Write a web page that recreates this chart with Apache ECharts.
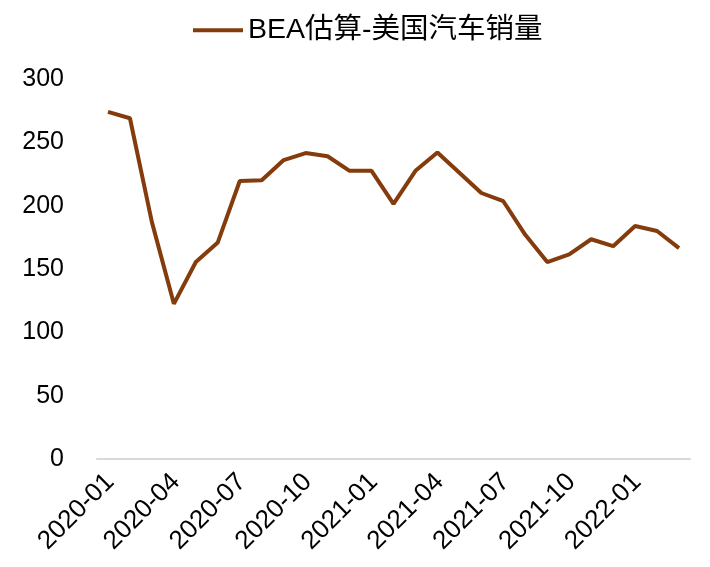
<!DOCTYPE html>
<html>
<head>
<meta charset="utf-8">
<script src="https://cdn.jsdelivr.net/npm/echarts@6/dist/echarts.min.js"></script>
<style>html,body{margin:0;padding:0;background:#fff}#c{width:710px;height:567px}</style>
</head>
<body>
<div id="c"></div>
<script>
var months = ["2020-01","2020-02","2020-03","2020-04","2020-05","2020-06","2020-07","2020-08","2020-09","2020-10","2020-11","2020-12",
  "2021-01","2021-02","2021-03","2021-04","2021-05","2021-06","2021-07","2021-08","2021-09","2021-10","2021-11","2021-12",
  "2022-01","2022-02","2022-03"];
var sales = [274, 269, 187, 122.5, 155.5, 171, 219.5, 220, 236, 241.5, 239, 227.5,
  227.5, 201.5, 227.5, 242, 226, 210, 203.5, 177, 155.5, 161.5, 173.5, 168,
  184, 180, 166.5];
var seriesName = "BEA估算-美国汽车销量";
var yTicks = { min: 0, max: 300, interval: 50 };

var chart = echarts.init(document.getElementById('c'));
chart.setOption({
  animation: false,
  backgroundColor: '#ffffff',
  textStyle: { fontFamily: 'Liberation Sans, Arial, "Noto Sans CJK SC", sans-serif' },
  legend: {
    left: 188, top: 11,
    icon: 'rect', itemWidth: 50, itemHeight: 4, itemGap: 10,
    textStyle: { fontSize: 28.5, color: '#000', fontFamily: 'Liberation Sans, Arial, "Noto Sans CJK SC", sans-serif' },
    data: [seriesName]
  },
  grid: { left: 97, right: 20, top: 79, bottom: 108, containLabel: false },
  xAxis: {
    type: 'category', data: months, boundaryGap: true,
    axisLine: { lineStyle: { color: '#d9d9d9', width: 2 } },
    axisTick: { interval: 2, length: 6, lineStyle: { color: '#d9d9d9', width: 2 } },
    axisLabel: { interval: 2, rotate: 45, fontSize: 26, color: '#000', margin: 21, padding: [0, -3, 0, 0] },
    splitLine: { show: false }
  },
  yAxis: {
    type: 'value', min: yTicks.min, max: yTicks.max, interval: yTicks.interval,
    axisLine: { show: false }, axisTick: { show: false },
    axisLabel: { fontSize: 25, color: '#000', margin: 33 },
    splitLine: { show: false }
  },
  series: [{
    name: seriesName, type: 'line', data: sales,
    showSymbol: false, symbol: 'none',
    lineStyle: { color: '#843C0C', width: 4 },
    itemStyle: { color: '#843C0C' }
  }]
});
</script>
</body>
</html>
